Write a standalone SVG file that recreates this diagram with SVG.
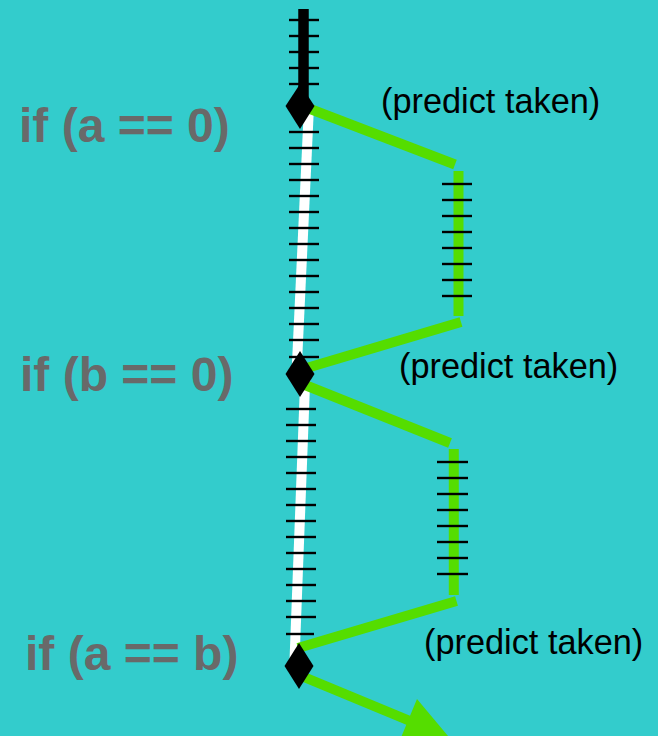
<svg xmlns="http://www.w3.org/2000/svg" width="658" height="736" viewBox="0 0 658 736">
<style>
.tick{stroke:#000;stroke-width:2.4}
.g{stroke:#55DD00;stroke-width:10;fill:none}
.lbl{font-family:"Liberation Sans",Arial,sans-serif;font-weight:bold;font-size:48px;fill:#696969}
.pt{font-family:"Liberation Sans",Arial,sans-serif;font-size:34.3px;fill:#000}
.dia{fill:#000}
</style>
<rect width="658" height="736" fill="#33CCCC"/>
<g id="connectors">
  <line x1="303.5" y1="9" x2="303.5" y2="100" stroke="#000" stroke-width="10.5"/>
  <line x1="309" y1="106" x2="296.5" y2="374" stroke="#fff" stroke-width="10"/>
  <line x1="305.4" y1="374" x2="294.3" y2="666" stroke="#fff" stroke-width="10"/>
  <line class="g" x1="305" y1="107" x2="455" y2="164.5"/>
  <line class="g" x1="458.5" y1="171" x2="458.5" y2="316"/>
  <line class="g" x1="461" y1="322" x2="300" y2="370"/>
  <line class="g" x1="300" y1="383" x2="450" y2="443"/>
  <line class="g" x1="453.8" y1="449" x2="453.8" y2="595"/>
  <line class="g" x1="456.5" y1="601" x2="298" y2="648"/>
  <line class="g" x1="299" y1="675" x2="410" y2="721"/>
  <polygon points="417,699 400,740 448,736" fill="#55DD00"/>
  <g id="ticks-top">
    <line class="tick" x1="289" y1="20" x2="319" y2="20"/>
    <line class="tick" x1="289" y1="36" x2="319" y2="36"/>
    <line class="tick" x1="289" y1="52" x2="319" y2="52"/>
    <line class="tick" x1="289" y1="68" x2="319" y2="68"/>
    <line class="tick" x1="289" y1="84" x2="319" y2="84"/>
  </g>
  <g id="ticks-seg1">
    <line class="tick" x1="289" y1="132" x2="319" y2="132"/>
    <line class="tick" x1="289" y1="148" x2="319" y2="148"/>
    <line class="tick" x1="289" y1="164" x2="319" y2="164"/>
    <line class="tick" x1="289" y1="180" x2="319" y2="180"/>
    <line class="tick" x1="289" y1="196" x2="319" y2="196"/>
    <line class="tick" x1="289" y1="212" x2="319" y2="212"/>
    <line class="tick" x1="289" y1="228" x2="319" y2="228"/>
    <line class="tick" x1="289" y1="244" x2="319" y2="244"/>
    <line class="tick" x1="289" y1="260" x2="319" y2="260"/>
    <line class="tick" x1="289" y1="276" x2="319" y2="276"/>
    <line class="tick" x1="289" y1="292" x2="319" y2="292"/>
    <line class="tick" x1="289" y1="308" x2="319" y2="308"/>
    <line class="tick" x1="289" y1="324" x2="319" y2="324"/>
    <line class="tick" x1="289" y1="340" x2="319" y2="340"/>
    <line class="tick" x1="289" y1="357" x2="319" y2="357"/>
  </g>
  <g id="ticks-seg2">
    <line class="tick" x1="286" y1="409" x2="316" y2="409"/>
    <line class="tick" x1="286" y1="425" x2="316" y2="425"/>
    <line class="tick" x1="286" y1="441" x2="316" y2="441"/>
    <line class="tick" x1="286" y1="457" x2="316" y2="457"/>
    <line class="tick" x1="286" y1="473" x2="316" y2="473"/>
    <line class="tick" x1="286" y1="489" x2="316" y2="489"/>
    <line class="tick" x1="286" y1="505" x2="316" y2="505"/>
    <line class="tick" x1="286" y1="521" x2="316" y2="521"/>
    <line class="tick" x1="286" y1="537" x2="316" y2="537"/>
    <line class="tick" x1="286" y1="553" x2="316" y2="553"/>
    <line class="tick" x1="286" y1="569" x2="316" y2="569"/>
    <line class="tick" x1="286" y1="585" x2="316" y2="585"/>
    <line class="tick" x1="286" y1="601" x2="316" y2="601"/>
    <line class="tick" x1="286" y1="617" x2="316" y2="617"/>
    <line class="tick" x1="286" y1="634" x2="314" y2="634"/>
  </g>
  <g id="ticks-v1">
    <line class="tick" x1="442" y1="184" x2="472" y2="184"/>
    <line class="tick" x1="442" y1="200" x2="472" y2="200"/>
    <line class="tick" x1="442" y1="216" x2="472" y2="216"/>
    <line class="tick" x1="442" y1="232" x2="472" y2="232"/>
    <line class="tick" x1="442" y1="248" x2="472" y2="248"/>
    <line class="tick" x1="442" y1="264" x2="472" y2="264"/>
    <line class="tick" x1="442" y1="280" x2="472" y2="280"/>
    <line class="tick" x1="442" y1="296" x2="472" y2="296"/>
  </g>
  <g id="ticks-v2">
    <line class="tick" x1="437" y1="462" x2="468" y2="462"/>
    <line class="tick" x1="437" y1="478" x2="468" y2="478"/>
    <line class="tick" x1="437" y1="494" x2="468" y2="494"/>
    <line class="tick" x1="437" y1="510" x2="468" y2="510"/>
    <line class="tick" x1="437" y1="526" x2="468" y2="526"/>
    <line class="tick" x1="437" y1="542" x2="468" y2="542"/>
    <line class="tick" x1="437" y1="558" x2="468" y2="558"/>
    <line class="tick" x1="437" y1="574" x2="468" y2="574"/>
  </g>
</g>
<g id="branch1">
  <polygon class="dia" points="300,84 314.5,106 300,129 285.5,106"/>
  <text class="lbl" x="19" y="142">if (a == 0)</text>
  <text class="pt" x="381" y="113">(predict taken)</text>
</g>
<g id="branch2">
  <polygon class="dia" points="300,351 314.5,374 300,397 285.5,374"/>
  <text class="lbl" x="20" y="391">if (b == 0)</text>
  <text class="pt" x="399" y="378">(predict taken)</text>
</g>
<g id="branch3">
  <polygon class="dia" points="299,643 313.5,666 299,689 284.5,666"/>
  <text class="lbl" x="25" y="670">if (a == b)</text>
  <text class="pt" x="424" y="654">(predict taken)</text>
</g>
</svg>
